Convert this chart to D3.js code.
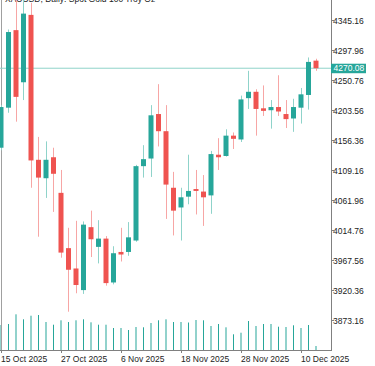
<!DOCTYPE html>
<html>
<head>
<meta charset="utf-8">
<script src="https://cdn.jsdelivr.net/npm/d3@7"></script>
<style>
  html, body { margin: 0; padding: 0; background: #fff; }
  svg { display: block; font-family: "Liberation Sans", Arial, sans-serif; }
</style>
</head>
<body>
<div id="chart"></div>
<script>
// Chart data (daily candles)
const dates = [
  '2025-10-15', '2025-10-16', '2025-10-17', '2025-10-20', '2025-10-21', '2025-10-22', '2025-10-23', '2025-10-24',
  '2025-10-27', '2025-10-28', '2025-10-29', '2025-10-30', '2025-10-31', '2025-11-03', '2025-11-04', '2025-11-05',
  '2025-11-06', '2025-11-07', '2025-11-10', '2025-11-11', '2025-11-12', '2025-11-13', '2025-11-14', '2025-11-17',
  '2025-11-18', '2025-11-19', '2025-11-20', '2025-11-21', '2025-11-24', '2025-11-25', '2025-11-26', '2025-11-27',
  '2025-11-28', '2025-12-01', '2025-12-02', '2025-12-03', '2025-12-04', '2025-12-05', '2025-12-08', '2025-12-09',
  '2025-12-10', '2025-12-11', '2025-12-12'
];
const opens = [4145, 4208, 4330, 4248, 4354, 4126, 4097, 4130, 4074, 3987, 3955, 3921, 4020, 3989, 4002, 3933,
  3981, 3981, 3999, 4116, 4128, 4198, 4171, 4082, 4051, 4068, 4080, 4076, 4070, 4134, 4132, 4164,
  4158, 4223, 4233, 4207, 4204, 4209, 4198, 4191, 4208, 4228, 4282];
const highs = [4212, 4331, 4381, 4380, 4373, 4162, 4155, 4145, 4110, 4019, 4030, 4029, 4046, 4031, 4006, 3990,
  4019, 4028, 4118, 4149, 4212, 4245, 4212, 4107, 4082, 4134, 4110, 4102, 4140, 4160, 4174, 4169,
  4227, 4266, 4237, 4243, 4220, 4259, 4220, 4222, 4239, 4287, 4285];
const lows = [4141, 4200, 4186, 4220, 4082, 4005, 4066, 4044, 3972, 3887, 3916, 3915, 3973, 3963, 3928, 3930,
  3966, 3975, 3997, 4098, 4099, 4147, 4033, 4007, 3999, 4056, 4040, 4022, 4041, 4110, 4131, 4143,
  4154, 4206, 4164, 4195, 4175, 4195, 4176, 4170, 4183, 4205, 4266];
const closes = [4209, 4327, 4225, 4356, 4125, 4098, 4126, 4104, 3980, 3953, 3929, 4024, 4001, 4002, 3932, 3979,
  3977, 4004, 4116, 4127, 4196, 4171, 4087, 4046, 4067, 4077, 4077, 4067, 4135, 4130, 4164, 4159,
  4221, 4233, 4206, 4203, 4209, 4202, 4190, 4209, 4229, 4280, 4270.08];
const volumes = [25000, 26000, 35700, 30700, 34300, 35000, 28000, 25300, 29700, 28000, 29700, 30700, 27700, 25300,
  25300, 22000, 22000, 20000, 23000, 22700, 27000, 29700, 30700, 28000, 28000, 27500, 30000, 29700,
  24000, 26000, 22700, 15700, 17300, 29000, 24000, 26000, 26000, 23300, 23000, 24700, 22000, 25000, 4000];

const priceTicks = [3873.16, 3920.36, 3967.56, 4014.76, 4061.96, 4109.16, 4156.36, 4203.56, 4250.76, 4297.96, 4345.16];
const dateTicks = ['2025-10-15', '2025-10-27', '2025-11-06', '2025-11-18', '2025-11-28', '2025-12-10'];
const lastPrice = 4270.08;
const title = 'XAUUSD, Daily:  Spot Gold 100 Troy Oz';

// Layout
const width = 375;
const height = 366;
const plotRight = 331;
const plotBottom = 350;

const upColor = '#26a69a';
const downColor = '#ef5350';
const upWick = '#8fd3ca';
const downWick = '#f7a6a5';

const svg = d3.select('#chart')
  .append('svg')
  .attr('width', width)
  .attr('height', height);

const x = d3.scalePoint()
  .domain(dates)
  .range([1, 316]);

const y = d3.scaleLinear()
  .domain([3873.16, 4345.16])
  .range([320.5, 20.5]);

const yVol = d3.scaleLinear()
  .domain([0, 50000])
  .range([plotBottom, 300]);

const candles = dates.map((d, i) => ({
  date: d, open: opens[i], high: highs[i], low: lows[i], close: closes[i], volume: volumes[i]
}));

// title (mostly cut off at the top)
svg.append('text')
  .attr('x', 5)
  .attr('y', 1.5)
  .attr('font-size', 8.5)
  .attr('fill', '#222')
  .text(title);

// volume bars
svg.append('g')
  .selectAll('rect')
  .data(candles)
  .enter()
  .append('rect')
  .attr('x', d => x(d.date) - 0.5)
  .attr('width', 1)
  .attr('y', d => yVol(d.volume))
  .attr('height', d => plotBottom - yVol(d.volume))
  .attr('fill', upColor);

// left separator line
svg.append('line')
  .attr('x1', 1.5).attr('x2', 1.5)
  .attr('y1', 0).attr('y2', plotBottom)
  .attr('stroke', '#a0a0a0')
  .attr('stroke-width', 1);

// last price line
svg.append('line')
  .attr('x1', 0).attr('x2', plotRight)
  .attr('y1', y(lastPrice)).attr('y2', y(lastPrice))
  .attr('stroke', upWick)
  .attr('stroke-width', 1);

// candles
const candle = svg.append('g')
  .selectAll('g')
  .data(candles)
  .enter()
  .append('g');

candle.append('line')
  .attr('x1', d => Math.floor(x(d.date)) + 0.5)
  .attr('x2', d => Math.floor(x(d.date)) + 0.5)
  .attr('y1', d => y(d.high))
  .attr('y2', d => y(d.low))
  .attr('stroke', d => d.close >= d.open ? upWick : downWick)
  .attr('stroke-width', 1);

candle.append('rect')
  .attr('x', d => x(d.date) - 2.5)
  .attr('width', 5)
  .attr('y', d => y(Math.max(d.open, d.close)))
  .attr('height', d => Math.max(1.5, Math.abs(y(d.open) - y(d.close))))
  .attr('fill', d => d.close >= d.open ? upColor : downColor);

// right price axis
svg.append('line')
  .attr('x1', plotRight + 0.5).attr('x2', plotRight + 0.5)
  .attr('y1', 0).attr('y2', plotBottom)
  .attr('stroke', '#808080');

const yAxis = svg.append('g');
yAxis.selectAll('line')
  .data(priceTicks)
  .enter()
  .append('line')
  .attr('x1', plotRight).attr('x2', plotRight + 3)
  .attr('y1', d => y(d)).attr('y2', d => y(d))
  .attr('stroke', '#808080');
yAxis.selectAll('text')
  .data(priceTicks)
  .enter()
  .append('text')
  .attr('x', plotRight + 2)
  .attr('y', d => y(d) + 3)
  .attr('font-size', 8.5)
  .attr('fill', '#222')
  .text(d => d.toFixed(2));

// last price tag
svg.append('rect')
  .attr('x', plotRight)
  .attr('y', y(lastPrice) - 4.5)
  .attr('width', 35)
  .attr('height', 9.5)
  .attr('fill', upColor);
svg.append('text')
  .attr('x', plotRight + 2.5)
  .attr('y', y(lastPrice) + 3.2)
  .attr('font-size', 8.5)
  .attr('fill', '#fff')
  .text(lastPrice.toFixed(2));

// bottom date axis
svg.append('line')
  .attr('x1', 0).attr('x2', plotRight + 1)
  .attr('y1', plotBottom + 0.5).attr('y2', plotBottom + 0.5)
  .attr('stroke', '#808080');

const fmt = d3.timeFormat('%-d %b %Y');
const parse = d3.timeParse('%Y-%m-%d');
const xAxis = svg.append('g');
xAxis.selectAll('line')
  .data(dateTicks)
  .enter()
  .append('line')
  .attr('x1', d => Math.floor(x(d)) + 0.5).attr('x2', d => Math.floor(x(d)) + 0.5)
  .attr('y1', plotBottom).attr('y2', plotBottom + 3)
  .attr('stroke', '#808080');
xAxis.selectAll('text')
  .data(dateTicks)
  .enter()
  .append('text')
  .attr('x', d => x(d))
  .attr('y', 361.5)
  .attr('font-size', 8.5)
  .attr('fill', '#222')
  .text(d => fmt(parse(d)));
</script>
</body>
</html>
